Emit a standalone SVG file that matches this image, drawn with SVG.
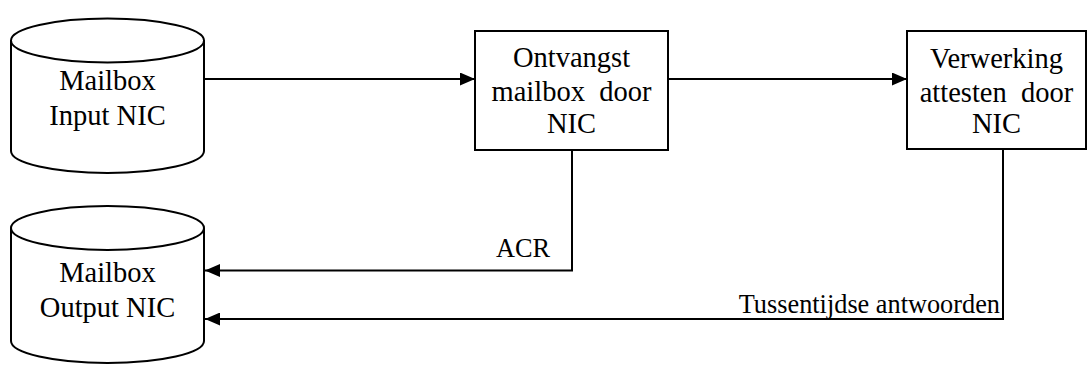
<svg xmlns="http://www.w3.org/2000/svg" width="1089" height="365" viewBox="0 0 1089 365">
<defs>
<style>
.shape{fill:#fff;stroke:#000;stroke-width:2}
.line{fill:none;stroke:#000;stroke-width:2}
.t{font-family:"Liberation Serif","Times New Roman",serif;font-size:28.5px;fill:#000;text-anchor:middle}
.lbl{font-family:"Liberation Serif","Times New Roman",serif;font-size:26.3px;fill:#000;text-anchor:end}
</style>
<marker id="arr" viewBox="0 0 15 13" refX="15" refY="6.5" markerWidth="15" markerHeight="13" markerUnits="userSpaceOnUse" orient="auto">
<path d="M0,0 L15,6.5 L0,13 Z" fill="#000"/>
</marker>
</defs>
<g id="mailbox-input">
<path class="shape" d="M11,40.5 L11,151 A96.5,22 0 0 0 204,151 L204,40.5 A96.5,22 0 0 0 11,40.5 Z"/>
<path class="line" d="M11,40.5 A96.5,22 0 0 0 204,40.5"/>
<text class="t" x="107.5" y="90">Mailbox</text>
<text class="t" x="107.5" y="125">Input NIC</text>
</g>
<g id="mailbox-output">
<path class="shape" d="M11,228 L11,341 A96.5,22 0 0 0 204,341 L204,228 A96.5,22 0 0 0 11,228 Z"/>
<path class="line" d="M11,228 A96.5,22 0 0 0 204,228"/>
<text class="t" x="107.5" y="282">Mailbox</text>
<text class="t" x="107.5" y="317">Output NIC</text>
</g>
<g id="ontvangst">
<rect class="shape" x="475" y="31" width="193" height="119"/>
<text class="t" x="571.5" y="67">Ontvangst</text>
<text class="t" x="571.5" y="101" xml:space="preserve">mailbox  door</text>
<text class="t" x="571.5" y="133">NIC</text>
</g>
<g id="verwerking">
<rect class="shape" x="907" y="31" width="179" height="118"/>
<text class="t" x="996.5" y="68">Verwerking</text>
<text class="t" x="996.5" y="102" xml:space="preserve">attesten  door</text>
<text class="t" x="996.5" y="133">NIC</text>
</g>
<g id="connectors">
<path class="line" d="M204,79 L475,79" marker-end="url(#arr)"/>
<path class="line" d="M668,79 L907,79" marker-end="url(#arr)"/>
<path class="line" d="M572,150 L572,270.5 L205,270.5" marker-end="url(#arr)"/>
<path class="line" d="M1003,149 L1003,319 L205,319" marker-end="url(#arr)"/>
<text class="lbl" x="550" y="257">ACR</text>
<text class="lbl" x="1000" y="313">Tussentijdse antwoorden</text>
</g>
</svg>
